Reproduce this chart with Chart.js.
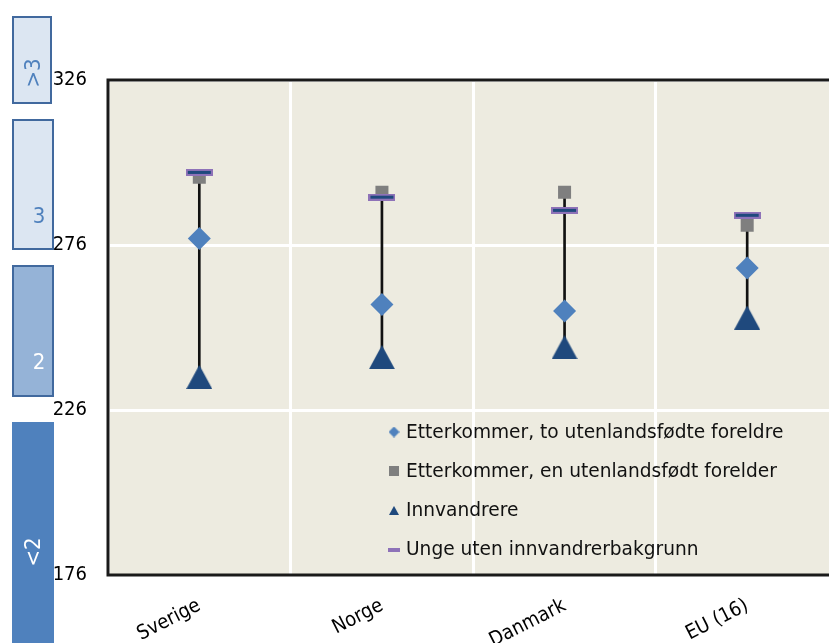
<!DOCTYPE html>
<html><head><meta charset="utf-8">
<script src="https://cdn.jsdelivr.net/npm/chart.js@4"></script>
<style>
html,body{margin:0;padding:0;background:#fff;overflow:hidden;width:829px;height:643px;}
#wrap{position:absolute;left:0;top:0;width:850px;height:643px;}
.box{position:absolute;box-sizing:border-box;}
.lbl{position:absolute;font-family:'DejaVu Sans Condensed','DejaVu Sans',sans-serif;font-size:22px;line-height:1;transform:translate(-50%,-50%);white-space:nowrap;}
</style></head>
<body>
<div id="wrap"><canvas id="c" width="850" height="643"></canvas></div>
<div class="box" style="left:12px;top:16px;width:40px;height:88px;background:#DCE6F2;border:2px solid #41699E;"></div>
<div class="box" style="left:12px;top:119px;width:42px;height:131px;background:#DCE6F2;border:2px solid #41699E;"></div>
<div class="box" style="left:12px;top:265px;width:42px;height:132px;background:#95B3D7;border:2px solid #41699E;"></div>
<div class="box" style="left:12px;top:422px;width:42px;height:230px;background:#4F81BD;"></div>
<div class="lbl" style="left:33px;top:73px;color:#4F81BD;transform:translate(-50%,-50%) rotate(-90deg);">&gt;3</div>
<div class="lbl" style="left:39px;top:216px;color:#4F81BD;">3</div>
<div class="lbl" style="left:39px;top:362px;color:#ffffff;">2</div>
<div class="lbl" style="left:33px;top:552px;color:#ffffff;transform:translate(-50%,-50%) rotate(-90deg);">&lt;2</div>
<script>
const categories = ['Sverige', 'Norge', 'Danmark', 'EU (16)'];
const toForeldre = [278, 258, 256, 269];          // Etterkommer, to utenlandsfødte foreldre
const enForelder = [296.5, 292, 292, 282];        // Etterkommer, en utenlandsfødt forelder
const innvandrere = [236, 242, 245, 254];         // Innvandrere
const ungeUten = [298, 290.5, 286.5, 285];        // Unge uten innvandrerbakgrunn
const yTicks = [176, 226, 276, 326];
const seriesNames = ['Etterkommer, to utenlandsfødte foreldre', 'Etterkommer, en utenlandsfødt forelder', 'Innvandrere', 'Unge uten innvandrerbakgrunn'];

const FONT = "'DejaVu Sans Condensed','DejaVu Sans',sans-serif";
const LEGEND_FONT = "'DejaVu Sans',sans-serif";

function makeCanvas(w, h, draw) {
  const c = document.createElement('canvas');
  c.width = w; c.height = h;
  draw(c.getContext('2d'), w, h);
  return c;
}
function tri(color, w, h) {
  return makeCanvas(w, h, (g) => {
    g.fillStyle = color; g.beginPath();
    g.moveTo(w / 2, 0); g.lineTo(w, h); g.lineTo(0, h); g.closePath(); g.fill();
  });
}
function dash(w, h, inset) {
  return makeCanvas(w, h, (g) => {
    g.fillStyle = '#8E72B8'; g.fillRect(0, 0, w, h);
    if (inset) { g.fillStyle = '#1F497D'; g.fillRect(inset, inset, w - 2 * inset, h - 2 * inset); }
  });
}
function diamond(color, s) {
  return makeCanvas(s, s, (g) => {
    g.fillStyle = color; g.beginPath();
    g.moveTo(s / 2, 0); g.lineTo(s, s / 2); g.lineTo(s / 2, s); g.lineTo(0, s / 2); g.closePath(); g.fill();
  });
}
function square(color, s) {
  return makeCanvas(s, s, (g) => { g.fillStyle = color; g.fillRect(0, 0, s, s); });
}

const triBig = tri('#1F497D', 26, 24);
const dashBig = dash(27, 7, 2);
const legendIcons = [diamond('#4F81BD', 11), square('#7F7F7F', 10), tri('#1F497D', 10, 9), dash(12, 4, 0)];

const ranges = categories.map((_, i) => {
  const v = [toForeldre[i], enForelder[i], innvandrere[i], ungeUten[i]];
  return [Math.min(...v), Math.max(...v)];
});

const bgPlugin = {
  id: 'bg',
  beforeDraw(chart) {
    const { ctx, chartArea: a } = chart;
    ctx.save(); ctx.fillStyle = '#EDEBE0';
    ctx.fillRect(a.left, a.top, a.right - a.left, a.bottom - a.top); ctx.restore();
  },
  afterDraw(chart) {
    const { ctx, chartArea: a } = chart;
    ctx.save();
    ctx.strokeStyle = '#1a1a1a'; ctx.lineWidth = 3;
    ctx.strokeRect(a.left, a.top, a.right - a.left, a.bottom - a.top);
    // legend inside plot area
    ctx.font = '18.6px ' + LEGEND_FONT; ctx.fillStyle = '#111'; ctx.textBaseline = 'middle'; ctx.textAlign = 'left';
    const lx = a.left + 286, tx = a.left + 298;
    seriesNames.forEach((name, i) => {
      const y = a.top + 352 + i * 39.2;
      const ic = legendIcons[i];
      ctx.drawImage(ic, lx - ic.width / 2, y - ic.height / 2);
      ctx.fillText(name, tx, y + 1);
    });
    ctx.restore();
  }
};

new Chart(document.getElementById('c'), {
  data: {
    labels: categories,
    datasets: [
      { type: 'line', label: seriesNames[3], data: ungeUten, showLine: false, pointStyle: dashBig, order: 0 },
      { type: 'line', label: seriesNames[1], data: enForelder, showLine: false, pointStyle: 'rect', pointRadius: 9.2, pointBackgroundColor: '#7F7F7F', pointBorderWidth: 0, order: 1 },
      { type: 'line', label: seriesNames[0], data: toForeldre, showLine: false, pointStyle: 'rectRot', pointRadius: 11.5, pointBackgroundColor: '#4F81BD', pointBorderWidth: 0, order: 2 },
      { type: 'line', label: seriesNames[2], data: innvandrere, showLine: false, pointStyle: triBig, order: 3 },
      { type: 'bar', label: 'range', data: ranges, backgroundColor: '#111', barThickness: 2, order: 10 }
    ]
  },
  options: {
    responsive: false,
    animation: false,
    events: [],
    layout: { padding: { left: 0, right: 10, top: 80, bottom: 0 } },
    plugins: { legend: { display: false }, tooltip: { enabled: false } },
    scales: {
      x: {
        offset: true,
        grid: { color: '#ffffff', lineWidth: 3, offset: true, drawTicks: false },
        border: { display: false },
        ticks: { color: '#000', font: { family: FONT, size: 20 }, minRotation: 27, maxRotation: 27, padding: 19 },
        afterFit(s) { s.height = 68; }
      },
      y: {
        min: 176, max: 326,
        afterBuildTicks(s) { s.ticks = yTicks.map(v => ({ value: v })); },
        grid: { color: '#ffffff', lineWidth: 3, drawTicks: false },
        border: { display: false },
        ticks: { color: '#000', font: { family: FONT, size: 20 }, padding: 21 },
        afterFit(s) { s.width = 108; }
      }
    }
  },
  plugins: [bgPlugin]
});
</script>
</body></html>
